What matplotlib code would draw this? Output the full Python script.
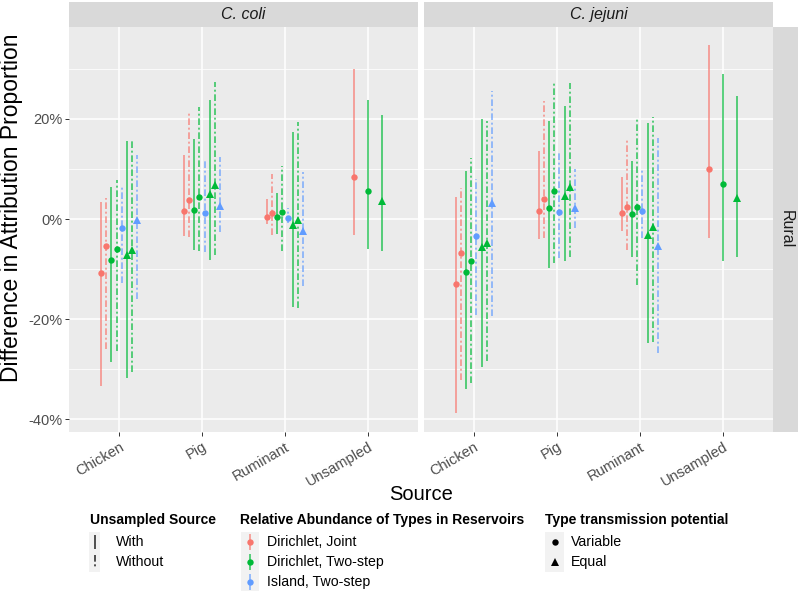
import numpy as np
import matplotlib
matplotlib.use("Agg")
import matplotlib.pyplot as plt
from matplotlib.patches import Rectangle
from matplotlib.ticker import FixedLocator, FuncFormatter

plt.rcParams["font.family"] = ["Liberation Sans", "DejaVu Sans"]

nan = np.nan

# ---- data -------------------------------------------------------------
species = ["C. coli", "C. jejuni"]
region = "Rural"
sources = ["Chicken", "Pig", "Ruminant", "Unsampled"]

methods = ["Dirichlet, Joint", "Dirichlet, Two-step", "Island, Two-step"]
method_colors = ["#F8766D", "#00BA38", "#619CFF"]
unsampled_levels = ["With", "Without"]
transmission_levels = ["Variable", "Equal"]

# the 8 model combinations, in dodge order
group_method = [0, 0, 1, 1, 2, 1, 1, 2]
group_unsampled = [0, 1, 0, 1, 1, 0, 1, 1]
group_transmission = [0, 0, 0, 0, 0, 1, 1, 1]

# rows = sources, columns = groups (percent)
coli_est = [
    [-10.7, -5.3, -8.1, -6.0, -1.7, -7.1, -6.1, -0.1],
    [1.7, 3.9, 1.9, 4.5, 1.3, 5.1, 6.8, 2.7],
    [0.5, 1.3, 0.5, 1.4, 0.3, -1.2, -0.1, -2.3],
    [8.4, nan, 5.6, nan, nan, 3.7, nan, nan],
]
coli_lo = [
    [-33.3, -26.0, -28.6, -26.3, -12.8, -31.7, -30.5, -16.0],
    [-3.3, -3.5, -6.1, -6.3, -6.5, -8.1, -7.1, -2.5],
    [-1.0, -3.1, -2.9, -6.3, -0.8, -17.6, -17.8, -13.3],
    [-3.1, nan, -5.9, nan, nan, -6.4, nan, nan],
]
coli_hi = [
    [3.5, 4.2, 6.5, 7.9, 6.5, 15.7, 15.7, 12.9],
    [12.9, 21.4, 16.0, 22.4, 11.9, 23.7, 27.4, 12.5],
    [4.0, 9.0, 5.3, 10.7, 2.2, 17.3, 19.3, 9.5],
    [30.0, nan, 23.8, nan, nan, 20.7, nan, nan],
]
jejuni_est = [
    [-13.0, -6.7, -10.6, -8.3, -3.3, -5.5, -4.8, 3.2],
    [1.7, 4.1, 2.2, 5.6, 1.5, 4.7, 6.5, 2.2],
    [1.2, 2.5, 1.1, 2.5, 1.6, -3.1, -1.5, -5.3],
    [10.0, nan, 7.1, nan, nan, 4.3, nan, nan],
]
jejuni_lo = [
    [-38.8, -32.1, -34.0, -32.8, -19.1, -29.6, -28.3, -19.3],
    [-4.0, -3.8, -9.8, -8.8, -7.8, -8.3, -7.5, -1.8],
    [-2.3, -6.1, -7.5, -13.1, -3.8, -24.7, -24.5, -26.7],
    [-3.8, nan, -8.3, nan, nan, -7.5, nan, nan],
]
jejuni_hi = [
    [4.5, 6.2, 9.7, 12.2, 8.1, 20.0, 19.5, 25.5],
    [13.7, 23.5, 19.5, 27.3, 13.5, 22.5, 27.1, 10.0],
    [8.5, 16.2, 11.7, 19.9, 10.0, 19.2, 20.4, 16.2],
    [34.7, nan, 29.0, nan, nan, 24.5, nan, nan],
]

y_major = [-40, -20, 0, 20]
y_minor = [-30, -10, 10, 30]

# ---- styling ------------------------------------------------------------
W, H = 800, 594
PANEL_BG = "#EBEBEB"
STRIP_BG = "#D9D9D9"
KEY_BG = "#F2F2F2"
TEXT_GREY = "#4D4D4D"
DODGE = 0.5
LW = 1.2
DASHDOT = (0, (4, 1.6, 1.2, 1.6))
shape_markers = ["o", "^"]
shape_sizes = [4.6, 5.4]
TICK_FS = 10.5
TITLE_FS = 14.5
YTITLE_FS = 16.5
STRIP_FS = 11.5
LEG_TITLE_FS = 10
LEG_FS = 10.2

fig = plt.figure(figsize=(W / 100, H / 100), dpi=100)


def px_axes(x0, y0, x1, y1, **kw):
    """Add axes given pixel box (top-left origin)."""
    return fig.add_axes([x0 / W, 1 - y1 / H, (x1 - x0) / W, (y1 - y0) / H], **kw)


# overlay in pixel coordinates for legends
ov = px_axes(0, 0, W, H)
ov.set_xlim(0, W)
ov.set_ylim(H, 0)
ov.axis("off")

all_vals = np.array(coli_lo + coli_hi + jejuni_lo + jejuni_hi, dtype=float)
vmin, vmax = np.nanmin(all_vals), np.nanmax(all_vals)
pad = 0.05 * (vmax - vmin)
ylim = (vmin - pad, vmax + pad)

panel_boxes = [(69.4, 27, 417.7, 431.7), (424, 27, 772.7, 431.7)]
panel_data = [(coli_est, coli_lo, coli_hi), (jejuni_est, jejuni_lo, jejuni_hi)]

for k, (box, (est, lo, hi)) in enumerate(zip(panel_boxes, panel_data)):
    ax = px_axes(*box)
    ax.set_facecolor(PANEL_BG)
    for sp in ax.spines.values():
        sp.set_visible(False)

    for s in range(len(sources)):
        present = [g for g in range(len(group_method)) if not np.isnan(est[s][g])]
        n = len(present)
        for j, g in enumerate(present):
            x = s + (j - (n - 1) / 2) * DODGE / n
            color = method_colors[group_method[g]]
            ls = "solid" if group_unsampled[g] == 0 else DASHDOT
            ax.vlines(x, lo[s][g], hi[s][g], colors=color, linewidth=LW,
                      linestyles=[ls], alpha=0.75, zorder=3)
            t = group_transmission[g]
            ax.plot(x, est[s][g], marker=shape_markers[t], ms=shape_sizes[t],
                    color=color, ls="none", mew=0, zorder=4)

    ax.set_xlim(-0.6, len(sources) - 0.4)
    ax.set_ylim(*ylim)
    ax.yaxis.set_major_locator(FixedLocator(y_major))
    ax.yaxis.set_minor_locator(FixedLocator(y_minor))
    ax.yaxis.set_major_formatter(FuncFormatter(lambda v, _: f"{int(v)}%"))
    ax.set_xticks(range(len(sources)))
    ax.set_xticklabels(sources, rotation=30, ha="right", va="top",
                       rotation_mode="anchor", fontsize=TICK_FS, color=TEXT_GREY)
    ax.set_axisbelow(True)
    ax.grid(which="major", color="white", linewidth=1.1)
    ax.grid(which="minor", axis="y", color="white", linewidth=0.55)
    ax.tick_params(which="major", length=2.75, width=0.7, color="#333333",
                   labelsize=TICK_FS, labelcolor=TEXT_GREY, pad=2.5)
    ax.tick_params(which="minor", length=0)
    ax.tick_params(axis="x", pad=3)
    if k == 1:
        ax.tick_params(axis="y", labelleft=False, length=0)

    # top strip
    sx = px_axes(box[0], 1.7, box[2], 26.5)
    sx.set_facecolor(STRIP_BG)
    sx.set_xticks([])
    sx.set_yticks([])
    for sp in sx.spines.values():
        sp.set_visible(False)
    sx.text(0.5, 0.5, species[k], transform=sx.transAxes, ha="center",
            va="center", fontsize=STRIP_FS, style="italic", color="#1A1A1A")

# right strip
rx = px_axes(773.3, 27, 798.3, 431.7)
rx.set_facecolor(STRIP_BG)
rx.set_xticks([])
rx.set_yticks([])
for sp in rx.spines.values():
    sp.set_visible(False)
rx.text(0.5, 0.5, region, transform=rx.transAxes, ha="center", va="center",
        rotation=270, fontsize=STRIP_FS, color="#1A1A1A")

# axis titles
fig.text(12 / W, 1 - 208 / H, "Difference in Attribution Proportion",
         rotation=90, ha="center", va="center", fontsize=YTITLE_FS)
fig.text(421 / W, 1 - 495 / H, "Source", ha="center", va="center", fontsize=TITLE_FS)

# ---- legends ----------------------------------------------------------
title_y = 520
row_y = [542.3, 562, 581.7]
key_h = 19.7

# Unsampled Source (linetype)
ov.text(89.5, title_y, "Unsampled Source", fontweight="bold", fontsize=LEG_TITLE_FS,
        ha="left", va="center")
ov.add_patch(Rectangle((89.3, 532.3), 10.7, key_h * 2, color=KEY_BG, lw=0))
for i, lab in enumerate(unsampled_levels):
    ls = "solid" if i == 0 else DASHDOT
    ov.vlines(94.6, row_y[i] - 7, row_y[i] + 7, colors="#333333", linewidth=LW,
              linestyles=[ls])
    ov.text(116, row_y[i], lab, fontsize=LEG_FS, ha="left", va="center")

# Relative Abundance (colour)
ov.text(240, title_y, "Relative Abundance of Types in Reservoirs",
        fontweight="bold", fontsize=LEG_TITLE_FS, ha="left", va="center")
ov.add_patch(Rectangle((240.7, 532.3), 18.6, key_h * 3, color=KEY_BG, lw=0))
for i, lab in enumerate(methods):
    ov.vlines(250, row_y[i] - 8, row_y[i] + 8, colors=method_colors[i],
              linewidth=LW, alpha=0.75)
    ov.plot(250, row_y[i], marker="o", ms=shape_sizes[0], color=method_colors[i],
            mew=0, ls="none")
    ov.text(266.7, row_y[i], lab, fontsize=LEG_FS, ha="left", va="center")

# Type transmission potential (shape)
ov.text(545, title_y, "Type transmission potential", fontweight="bold",
        fontsize=LEG_TITLE_FS, ha="left", va="center")
ov.add_patch(Rectangle((545.2, 532.3), 18.8, key_h * 2, color=KEY_BG, lw=0))
for i, lab in enumerate(transmission_levels):
    ov.plot(554.6, row_y[i], marker=shape_markers[i], ms=shape_sizes[i],
            color="black", mew=0, ls="none")
    ov.text(571.3, row_y[i], lab, fontsize=LEG_FS, ha="left", va="center")

fig.savefig("out.png", dpi=100, facecolor="white")
